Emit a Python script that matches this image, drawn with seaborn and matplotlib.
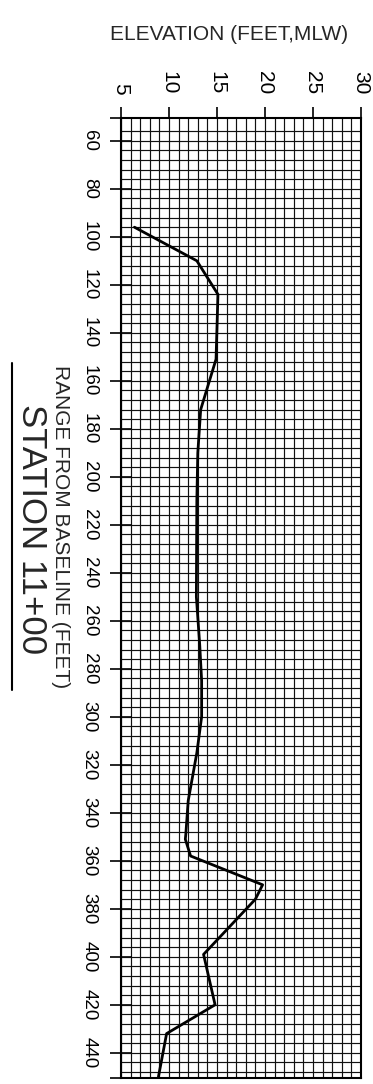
import matplotlib
matplotlib.use("Agg")
import numpy as np
import pandas as pd
import matplotlib.pyplot as plt
from matplotlib.ticker import FixedLocator
from matplotlib.lines import Line2D
import seaborn as sns

# Beach profile: range from baseline (ft) against elevation (ft, MLW)
range_ft = [96, 110, 124, 151, 172, 190, 210, 250, 270, 285, 300, 315,
            335, 349, 351, 358, 370, 376, 399, 420, 432, 450]
elevation_ft = [6.4, 12.9, 15.1, 14.9, 13.3, 13.0, 12.9, 12.85, 13.2, 13.4, 13.4, 12.9,
                12.0, 11.75, 11.7, 12.25, 19.75, 19.0, 13.6, 14.8, 9.75, 8.9]

elev_ticks = [5, 10, 15, 20, 25, 30]
range_ticks = [60, 80, 100, 120, 140, 160, 180, 200, 220, 240, 260, 280,
               300, 320, 340, 360, 380, 400, 420, 440]
elev_grid = list(range(5, 31, 1))
range_grid = list(range(56, 449, 4))
range_limits = (50.5, 450.5)

sns.set_style("white")
plt.rcParams["font.family"] = ["Liberation Sans", "DejaVu Sans"]

W, H = 373, 1084
fig = plt.figure(figsize=(W / 100, H / 100), dpi=100)
ax = fig.add_axes([121 / W, 1 - 1078 / H, 240 / W, 960 / H])

df = pd.DataFrame({"range": range_ft, "elevation": elevation_ft})
sns.lineplot(data=df, x="elevation", y="range", sort=False, orient="y",
             color="black", lw=2, errorbar=None, ax=ax, zorder=3)

ax.set_xlim(elev_ticks[0], elev_ticks[-1])
ax.set_ylim(range_limits[1], range_limits[0])

# elevation axis across the top
ax.xaxis.tick_top()
ax.xaxis.set_major_locator(FixedLocator(elev_ticks))
ax.set_xticklabels([str(v) for v in elev_ticks], rotation=-90)
ax.xaxis.set_minor_locator(FixedLocator(elev_grid))

# range axis down the left side, with marks at both frame edges
ax.yaxis.set_major_locator(FixedLocator([range_limits[0]] + range_ticks + [range_limits[1]]))
ax.set_yticklabels([""] + [str(v) for v in range_ticks] + [""], rotation=-90, va="center")
ax.yaxis.set_minor_locator(FixedLocator(range_grid))

ax.xaxis.remove_overlapping_locs = False
ax.yaxis.remove_overlapping_locs = False

ax.set_axisbelow(True)
ax.grid(False)
ax.grid(which="minor", color="#111111", lw=0.85)
ax.tick_params(which="minor", length=0)
ax.tick_params(axis="x", which="major", direction="out", length=8, width=1.2,
               pad=9, labelsize=15, top=True, bottom=False,
               labeltop=True, labelbottom=False, colors="black")
ax.tick_params(axis="y", which="major", direction="inout", length=16.5, width=1.2,
               pad=8.5, labelsize=13.5, left=True, right=False, colors="black")
ax.set_xlabel("")
ax.set_ylabel("")
for s in ax.spines.values():
    s.set_visible(True)
    s.set_color("black")
    s.set_linewidth(1.5)

fig.text(229 / W, 1 - 34 / H, "ELEVATION (FEET,MLW)", ha="center", va="center",
         fontsize=15)
fig.text(60 / W, 1 - 527 / H, "RANGE FROM BASELINE (FEET)", rotation=-90,
         ha="center", va="center", fontsize=15)
fig.text(31 / W, 1 - 529 / H, "STATION 11+00", rotation=-90,
         ha="center", va="center", fontsize=25)
fig.add_artist(Line2D([12 / W, 12 / W], [1 - 363 / H, 1 - 690 / H],
                      color="black", lw=1.5))

fig.savefig("out.png", dpi=100)
